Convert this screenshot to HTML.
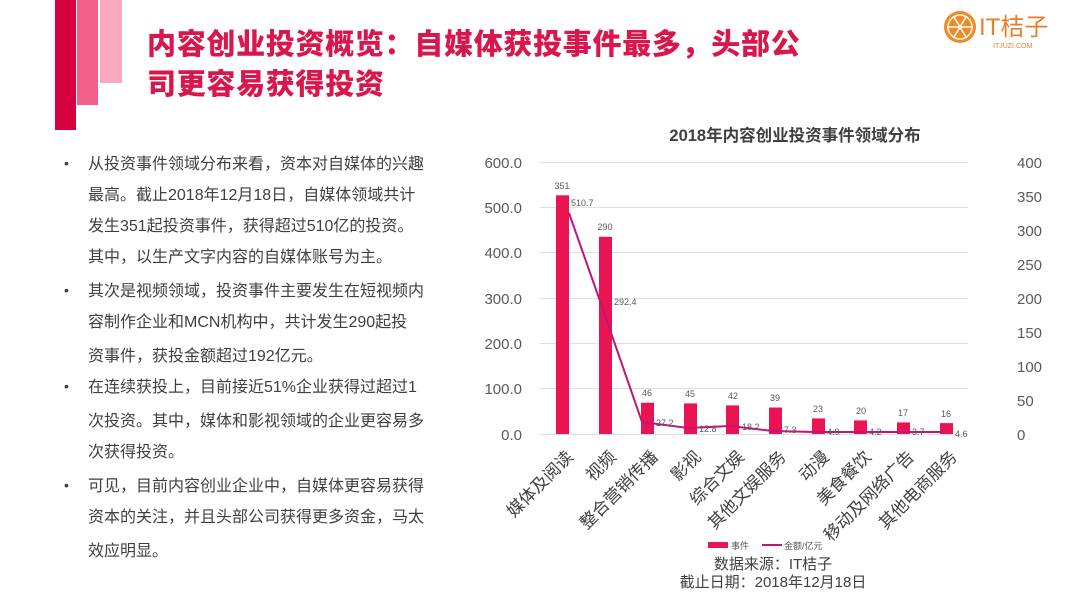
<!DOCTYPE html><html><head><meta charset="utf-8"><style>
body{margin:0;background:#fff;}
.w{position:relative;width:1080px;height:608px;overflow:hidden;font-family:"Liberation Sans","Noto Sans CJK SC",sans-serif;}
.t{position:absolute;left:88px;font-size:16px;color:#404040;white-space:nowrap;line-height:20px;}
.b{position:absolute;left:64px;font-size:14px;color:#404040;}
.h{position:absolute;left:147px;font-size:29px;font-weight:900;color:#d9174c;white-space:nowrap;letter-spacing:0.7px;line-height:34px;}
</style></head><body><div class="w">
<div style="position:absolute;left:55px;top:0;width:21px;height:130px;background:#d6003f"></div>
<div style="position:absolute;left:77px;top:0;width:21px;height:105px;background:#f06088"></div>
<div style="position:absolute;left:100px;top:0;width:22px;height:83px;background:#f9a8bd"></div>
<div class="h" style="top:28px">内容创业投资概览：自媒体获投事件最多，头部公</div>
<div class="h" style="top:68px">司更容易获得投资</div>
<div class="b" style="top:155px">•</div><div class="t" style="top:155px">从投资事件领域分布来看，资本对自媒体的兴趣</div>
<div class="t" style="top:186px">最高。截止2018年12月18日，自媒体领域共计</div>
<div class="t" style="top:217px">发生351起投资事件，获得超过510亿的投资。</div>
<div class="t" style="top:248px">其中，以生产文字内容的自媒体账号为主。</div>
<div class="b" style="top:282px">•</div><div class="t" style="top:282px">其次是视频领域，投资事件主要发生在短视频内</div>
<div class="t" style="top:313px">容制作企业和MCN机构中，共计发生290起投</div>
<div class="t" style="top:347px">资事件，获投金额超过192亿元。</div>
<div class="b" style="top:378px">•</div><div class="t" style="top:378px">在连续获投上，目前接近51%企业获得过超过1</div>
<div class="t" style="top:412px">次投资。其中，媒体和影视领域的企业更容易多</div>
<div class="t" style="top:443px">次获得投资。</div>
<div class="b" style="top:477px">•</div><div class="t" style="top:477px">可见，目前内容创业企业中，自媒体更容易获得</div>
<div class="t" style="top:508px">资本的关注，并且头部公司获得更多资金，马太</div>
<div class="t" style="top:542px">效应明显。</div>
<svg width="1080" height="608" style="position:absolute;left:0;top:0" font-family="Liberation Sans, Noto Sans CJK SC, sans-serif">
<circle cx="960" cy="27" r="16" fill="#f08a24"/>
<circle cx="960" cy="27" r="12" fill="none" stroke="#fff" stroke-width="1.5"/>
<g stroke="#fff" stroke-width="1.5"><line x1="948" y1="27" x2="972" y2="27"/><line x1="954" y1="17" x2="966" y2="37"/><line x1="966" y1="17" x2="954" y2="37"/></g>
<text x="979" y="35" font-size="24" fill="#e87d2a">IT桔子</text>
<text x="993" y="48" font-size="7" fill="#e87d2a">ITJUZI.COM</text>
<text x="795" y="141" font-size="16.5" font-weight="bold" fill="#404040" text-anchor="middle">2018年内容创业投资事件领域分布</text>
<g stroke="#e0e0e0" stroke-width="1">
<line x1="540" y1="162.5" x2="968" y2="162.5"/><line x1="540" y1="207.5" x2="968" y2="207.5"/><line x1="540" y1="252.5" x2="968" y2="252.5"/><line x1="540" y1="298.5" x2="968" y2="298.5"/><line x1="540" y1="343.5" x2="968" y2="343.5"/><line x1="540" y1="388.5" x2="968" y2="388.5"/><line x1="540" y1="434.5" x2="968" y2="434.5"/></g>
<g font-size="15" fill="#595959" text-anchor="end">
<text x="522" y="168">600.0</text><text x="522" y="213">500.0</text><text x="522" y="258">400.0</text><text x="522" y="304">300.0</text><text x="522" y="349">200.0</text><text x="522" y="394">100.0</text><text x="522" y="440">0.0</text></g>
<g font-size="15" fill="#595959">
<text x="1017" y="168">400</text><text x="1017" y="202">350</text><text x="1017" y="236">300</text><text x="1017" y="270">250</text><text x="1017" y="304">200</text><text x="1017" y="338">150</text><text x="1017" y="372">100</text><text x="1017" y="406">50</text><text x="1017" y="440">0</text></g>
<g fill="#ea1453">
<rect x="556" y="195.3" width="13" height="238.7"/><rect x="599" y="236.8" width="13" height="197.2"/><rect x="641" y="402.7" width="13" height="31.3"/><rect x="684" y="403.4" width="13" height="30.6"/><rect x="726" y="405.4" width="13" height="28.6"/><rect x="769" y="407.5" width="13" height="26.5"/><rect x="812" y="418.4" width="13" height="15.6"/><rect x="854" y="420.4" width="13" height="13.6"/><rect x="897" y="422.4" width="13" height="11.6"/><rect x="940" y="423.1" width="13" height="10.9"/></g>
<polyline fill="none" stroke="#c0157a" stroke-width="2" points="569,213 600,301 642,422 688,428 730,426 773,431 815,432 858,432 900,432 945,432"/>
<g font-size="9" fill="#595959" text-anchor="middle">
<text x="562" y="189">351</text><text x="605" y="230">290</text><text x="647" y="396">46</text><text x="690" y="397">45</text><text x="733" y="399">42</text><text x="775" y="401">39</text><text x="818" y="412">23</text><text x="861" y="414">20</text><text x="903" y="416">17</text><text x="946" y="417">16</text></g>
<g font-size="9" fill="#595959">
<text x="571" y="206">510.7</text><text x="614" y="305">292.4</text><text x="656" y="426">27.2</text><text x="699" y="432">12.8</text><text x="742" y="430">18.2</text><text x="784" y="433">7.3</text><text x="827" y="435">4.9</text><text x="869" y="435">4.2</text><text x="912" y="435">3.7</text><text x="955" y="437">4.6</text></g>
<g font-size="17" fill="#404040" text-anchor="end">
<text transform="translate(574,458) rotate(-45)">媒体及阅读</text>
<text transform="translate(617,458) rotate(-45)">视频</text>
<text transform="translate(659,458) rotate(-45)">整合营销传播</text>
<text transform="translate(702,458) rotate(-45)">影视</text>
<text transform="translate(745,458) rotate(-45)">综合文娱</text>
<text transform="translate(787,458) rotate(-45)">其他文娱服务</text>
<text transform="translate(830,458) rotate(-45)">动漫</text>
<text transform="translate(872,458) rotate(-45)">美食餐饮</text>
<text transform="translate(915,458) rotate(-45)">移动及网络广告</text>
<text transform="translate(958,458) rotate(-45)">其他电商服务</text></g>
<rect x="708" y="542" width="20" height="6" fill="#ea1453"/>
<text x="731" y="549" font-size="9" fill="#595959">事件</text>
<line x1="762" y1="545" x2="782" y2="545" stroke="#c0157a" stroke-width="2"/>
<text x="784" y="549" font-size="9" fill="#595959">金额/亿元</text>
<text x="773" y="569" font-size="15" fill="#404040" text-anchor="middle">数据来源：IT桔子</text>
<text x="773" y="587" font-size="15" fill="#404040" text-anchor="middle">截止日期：2018年12月18日</text>
</svg></div></body></html>
